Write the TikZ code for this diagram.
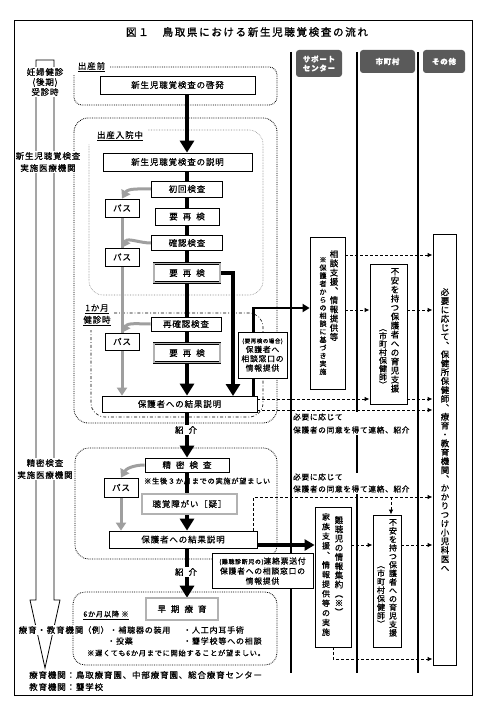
\documentclass[tikz,border=0pt]{standalone}
\usepackage{fontspec}
\usepackage{tikz}
\usetikzlibrary{arrows.meta,backgrounds}
\newfontfamily\jp[LetterSpace=10,FakeBold=0.6]{Noto Sans CJK JP}
\newfontfamily\jptitle[LetterSpace=16,FakeBold=1.2]{Noto Sans CJK JP}
\definecolor{hdrgray}{HTML}{5A5A5A}
\definecolor{passgray}{HTML}{9F9F9F}
\newcommand\kgap{\hspace{5pt}}
\makeatletter
\newcommand\tate[1]{\tate@loop#1\tate@end}
\def\tate@loop#1#2\tate@end{#1\ifx\relax#2\relax\expandafter\@gobble\else\expandafter\@firstofone\fi{\\\tate@loop#2\tate@end}}
\makeatother

\begin{document}
\begin{tikzpicture}[x=1pt,y=-1pt,
    every node/.style={font=\jp\fontsize{8.5}{10}\selectfont},
    flowbox/.style={draw,fill=white,inner sep=0pt,line width=0.8pt},
    dblbox/.style={draw,fill=white,inner sep=0pt,line width=0.6pt,double=gray!60,double distance=1.6pt},
    passbox/.style={flowbox,minimum width=34pt,minimum height=18pt},
    hdr/.style={fill=hdrgray,rounded corners=3pt,text=white,inner sep=0pt,align=center,font=\jp\bfseries\fontsize{7.5}{9}\selectfont},
    lbl/.style={fill=white,inner sep=1pt,align=center},
    notetxt/.style={inner sep=0pt,font=\jp\fontsize{7.2}{8}\selectfont},
    tatemain/.style={inner sep=0pt,anchor=north,align=center,font=\jp\fontsize{8.5}{9.2}\selectfont},
    tatesub/.style={inner sep=0pt,anchor=north,align=center,font=\jp\fontsize{7}{8}\selectfont},
    area/.style={densely dotted,line width=0.8pt,rounded corners=14pt},
    mainarr/.style={line width=4pt,-{Triangle[width=14pt,length=12pt]}},
    sidearr/.style={line width=2.5pt,-{Triangle[width=8pt,length=7pt]}},
    passarr/.style={passgray,line width=3pt,-{Triangle[width=10pt,length=8pt]}},
    passline/.style={passgray,line width=3pt},
    dasharr/.style={densely dashed,line width=1pt,-{Latex[length=5pt,width=4.5pt]}},
    lane/.style={line width=2.2pt}]
    \useasboundingbox (0,0) rectangle (484,708);
    \draw[line width=0.9pt] (14,20) rectangle (472,695);
    \node[font=\jptitle\fontsize{10.5}{12}\selectfont] (title) at (247,32) {図１　鳥取県における新生児聴覚検査の流れ};

    \node[hdr,minimum width=46pt,minimum height=27pt] (hdrsup) at (319,63.5) {サポート\\センター};
    \node[hdr,minimum width=55pt,minimum height=23pt] (hdrcity) at (387.5,61.5) {市町村};
    \node[hdr,minimum width=42pt,minimum height=23pt] (hdroth) at (444,61.5) {その他};

    \node[lbl,font=\jp\fontsize{8.5}{10}\selectfont] (ninpu) at (45,82) {妊婦健診\\(後期)\\受診時};
    \node[lbl,font=\jp\fontsize{8.5}{12}\selectfont] (iryo1) at (48,162) {新生児聴覚検査\\実施医療機関};
    \node[lbl,font=\jp\fontsize{8.5}{12}\selectfont] (iryo2) at (45,469) {精密検査\\実施医療機関};
    \node[lbl] (ryoiku) at (51,630) {療育・教育機関};
    \node[anchor=west,inner sep=0pt] (kikan1) at (29,675) {療育機関：鳥取療育園、中部療育園、総合療育センター};
    \node[anchor=west,inner sep=0pt] (kikan2) at (29,687) {教育機関：聾学校};

    \node[lbl,inner sep=0.5pt] (lblpre) at (91.5,67) {\underline{出産前}};
    \node[lbl,inner sep=0.5pt] (lblin) at (120,136) {\underline{出産入院中}};
    \node[lbl,inner sep=0.5pt,font=\jp\fontsize{8.5}{12}\selectfont] (lblmonth) at (97,315) {\underline{1か月}\\\underline{健診時}};
    \node[notetxt] (lblsix) at (106,615) {\underline{6か月以降\ ※}};

    \node[flowbox,minimum width=155pt,minimum height=18pt] (keihatsu) at (177.5,85) {新生児聴覚検査の啓発};
    \node[flowbox,minimum width=149pt,minimum height=18pt] (setsumei) at (177.5,162) {新生児聴覚検査の説明};
    \node[flowbox,minimum width=71pt,minimum height=16pt] (shokai) at (187,189) {初回検査};
    \node[flowbox,minimum width=64pt,minimum height=17pt] (yosai1) at (187,216.5) {要\kgap 再\kgap 検};
    \node[flowbox,minimum width=71pt,minimum height=15pt] (kakunin) at (187,243) {確認検査};
    \node[dblbox,minimum width=66pt,minimum height=19pt] (yosai2) at (187,273) {要\kgap 再\kgap 検};
    \node[flowbox,minimum width=70pt,minimum height=14pt] (saikaku) at (186,324) {再確認検査};
    \node[dblbox,minimum width=66pt,minimum height=19pt] (yosai3) at (187,353) {要\kgap 再\kgap 検};
    \node[flowbox,minimum width=155pt,minimum height=16pt] (kekka1) at (179.5,404) {保護者への結果説明};
    \node[flowbox,align=center,minimum width=49pt,minimum height=46pt,font=\jp\fontsize{7.8}{9.3}\selectfont] (teikyo1) at (262.5,355) {{\fontsize{5.5}{9.3}\selectfont(要再検の場合)}\\保護者へ\\相談窓口の\\情報提供};
    \node[fill=white,inner sep=1pt] (shoukai1) at (186,430) {紹\kgap 介};

    \node[flowbox,minimum width=84pt,minimum height=14pt] (seimitsu) at (187,465) {精\kgap 密\kgap 検\kgap 査};
    \node[notetxt,anchor=west] (note3m) at (144,481) {※生後３か月までの実施が望ましい};
    \node[dblbox,minimum width=95pt,minimum height=20pt] (utagai) at (189.5,504) {聴覚障がい［疑］};
    \node[flowbox,minimum width=148pt,minimum height=17pt] (kekka2) at (183,539.5) {保護者への結果説明};
    \node[flowbox,align=center,minimum width=101pt,minimum height=35pt,font=\jp\fontsize{7.8}{10}\selectfont] (teikyo2) at (262.5,571) {{\fontsize{6}{10}\selectfont(難聴診断児の)}連絡票送付\\保護者への相談窓口の\\情報提供};
    \node[fill=white,inner sep=1pt] (shoukai2) at (186,572) {紹\kgap 介};

    \node[dblbox,minimum width=72pt,minimum height=22pt] (souki) at (182,609) {早\kgap 期\kgap 療\kgap 育};
    \node[anchor=west,inner sep=0pt,font=\jp\fontsize{8}{10}\selectfont] (rei1) at (83,630) {（例）・補聴器の装用};
    \node[anchor=west,inner sep=0pt,font=\jp\fontsize{8}{10}\selectfont] (rei2) at (183,630) {・人工内耳手術};
    \node[anchor=west,inner sep=0pt,font=\jp\fontsize{8}{10}\selectfont] (rei3) at (107,641) {・投薬};
    \node[anchor=west,inner sep=0pt,font=\jp\fontsize{8}{10}\selectfont] (rei4) at (183,641) {・聾学校等への相談};
    \node[notetxt,anchor=west] (note6m) at (87,653) {※遅くても6か月までに開始することが望ましい。};

    \node[passbox] (pass1) at (122,208) {パス};
    \node[passbox] (pass2) at (122,257) {パス};
    \node[passbox,minimum height=17pt] (pass3) at (122,341.5) {パス};
    \node[passbox,minimum height=19pt] (pass4) at (121,487.5) {パス};

    \node[flowbox,minimum width=35pt,minimum height=152pt] (soudan) at (327.5,313) {};
    \node[tatemain] (soudantxt) at (334,250) {\tate{相談支援︑情報提供等}};
    \node[tatesub] (soudannote) at (323,257) {\tate{※保護者からの相談に基づき実施}};
    \node[flowbox,minimum width=37pt,minimum height=140pt] (shien1) at (388.5,334) {};
    \node[tatemain,font=\jp\fontsize{8.5}{9}\selectfont] (shien1txt) at (395,268) {\tate{不安を持つ保護者への育児支援}};
    \node[tatemain,font=\jp\fontsize{8}{8.2}\selectfont] (shien1sub) at (383,329) {\tate{︵市町村保健師︶}};
    \node[flowbox,minimum width=23pt,minimum height=431pt] (sonota) at (444.5,449.5) {};
    \node[tatemain,font=\jp\fontsize{8.5}{8.9}\selectfont] (sonotatxt) at (445,288) {\tate{必要に応じて︑保健所保健師︑療育・教育機関︑かかりつけ小児科医へ}};
    \node[flowbox,minimum width=36pt,minimum height=140pt] (nanchou) at (333,577) {};
    \node[tatemain] (nanchoutxt) at (339,516) {\tate{難聴児の情報集約︵※︶}};
    \node[tatemain,font=\jp\fontsize{8}{9.6}\selectfont] (nanchousub) at (326,513) {\tate{家族支援︑情報提供等の実施}};
    \node[flowbox,minimum width=28pt,minimum height=132pt] (shien2) at (387,581) {};
    \node[tatemain,font=\jp\fontsize{8}{8.5}\selectfont] (shien2txt) at (393,519) {\tate{不安を持つ保護者への育児支援}};
    \node[tatemain,font=\jp\fontsize{8}{8.5}\selectfont] (shien2sub) at (381,566) {\tate{︵市町村保健師︶}};

    \node[lbl,anchor=west,align=left,font=\jp\fontsize{7.6}{13}\selectfont] (hitsuyo1) at (292,423.5) {必要に応じて\\保護者の同意を得て連絡、紹介};
    \node[lbl,anchor=west,align=left,font=\jp\fontsize{7.6}{12}\selectfont] (hitsuyo2) at (292,483) {必要に応じて\\保護者の同意を得て連絡、紹介};

    \coordinate (brk) at (233,396);
    \coordinate (r1) at (0,255);
    \coordinate (r2) at (0,310);
    \coordinate (r3) at (0,399);
    \coordinate (r4) at (0,410);
    \coordinate (r5) at (0,497);
    \coordinate (r6) at (0,545);
    \coordinate (r7) at (0,659);

    \begin{pgfonlayer}{background}
        \draw[line width=0.8pt] (36,600) -- (36,60) -- (54,60) -- (54,600) -- (60,600) -- (45,668) -- (30,600) -- cycle;
        \draw[lane] (291,52) -- (291,673);
        \draw[lane] (357,52) -- (357,673);
        \draw[lane] (418,52) -- (418,673);

        \draw[area,rounded corners=8pt] (110,67) -- (277,67) -- (277,105) -- (74,105) -- (74,75);
        \draw[area] (74,118) rectangle (277,423);
        \draw[area,line width=0.6pt,gray] (148,130) -- (263,130) -- (263,295) -- (89,295) -- (89,144);
        \draw[area,dash dot,line width=0.6pt] (114,313) -- (263,313) -- (263,417) -- (91,417) -- (91,330);
        \draw[area] (75,448) rectangle (277,559);
        \draw[area,rounded corners=12pt] (73,592) rectangle (277,665);

        \draw[mainarr] (keihatsu.south -| shokai) -- (setsumei.north -| shokai);
        \draw[mainarr] (setsumei.south -| shokai) -- (kekka1.north -| shokai);
        \draw[mainarr] (yosai2.east) -| (brk);
        \draw[sidearr] ([xshift=-4pt]kekka1.north east) |- ([yshift=5pt]soudan.west);
        \draw[mainarr] (kekka1.south -| shokai) -- (seimitsu.north);
        \draw[mainarr] (seimitsu.south) -- (kekka2.north -| seimitsu);
        \draw[mainarr] (kekka2.south -| seimitsu) -- (souki.north -| seimitsu);
        \draw[line width=3.5pt,-{Triangle[width=11pt,length=10pt]}] (kekka2.east |- r6) -- (nanchou.west |- r6);

        \draw[passarr] (shokai.west) to[out=180,in=60] (pass1.north);
        \draw[passline] (pass1.south) -- (pass3.north);
        \draw[passarr] (kakunin.west) to[out=180,in=60] (pass2.north);
        \draw[passarr] (saikaku.west) to[out=180,in=60] (pass3.north);
        \draw[passarr] (pass3.south) -- (pass3.south |- kekka1.north);
        \draw[passarr] (seimitsu.west) to[out=180,in=60] (pass4.north);
        \draw[passarr] (pass4.south) -- (pass4.south |- kekka2.north);

        \draw[dasharr] (soudan.east |- r1) -- (sonota.west |- r1);
        \draw[dasharr] (soudan.east |- r2) -- (shien1.west |- r2);
        \draw[dasharr] (shien1.east |- r2) -- (sonota.west |- r2);
        \draw[dasharr] (kekka1.east |- r3) -- (shien1.west |- r3);
        \draw[dasharr] (shien1.east |- r3) -- (sonota.west |- r3);
        \draw[dasharr] (kekka1.east |- r4) -- (sonota.west |- r4);
        \draw[dasharr] ([xshift=-4pt]kekka2.north east) |- (sonota.west |- r5);
        \draw[dasharr] ([xshift=4pt]shien2.north |- r5) -- ([xshift=4pt]shien2.north);
        \draw[dasharr] (nanchou.east |- r6) -- (shien2.west |- r6);
        \draw[dasharr] (shien2.east |- r6) -- (sonota.west |- r6);
        \draw[dasharr] (nanchou.south) |- (sonota.west |- r7);
    \end{pgfonlayer}
\end{tikzpicture}
\end{document}
